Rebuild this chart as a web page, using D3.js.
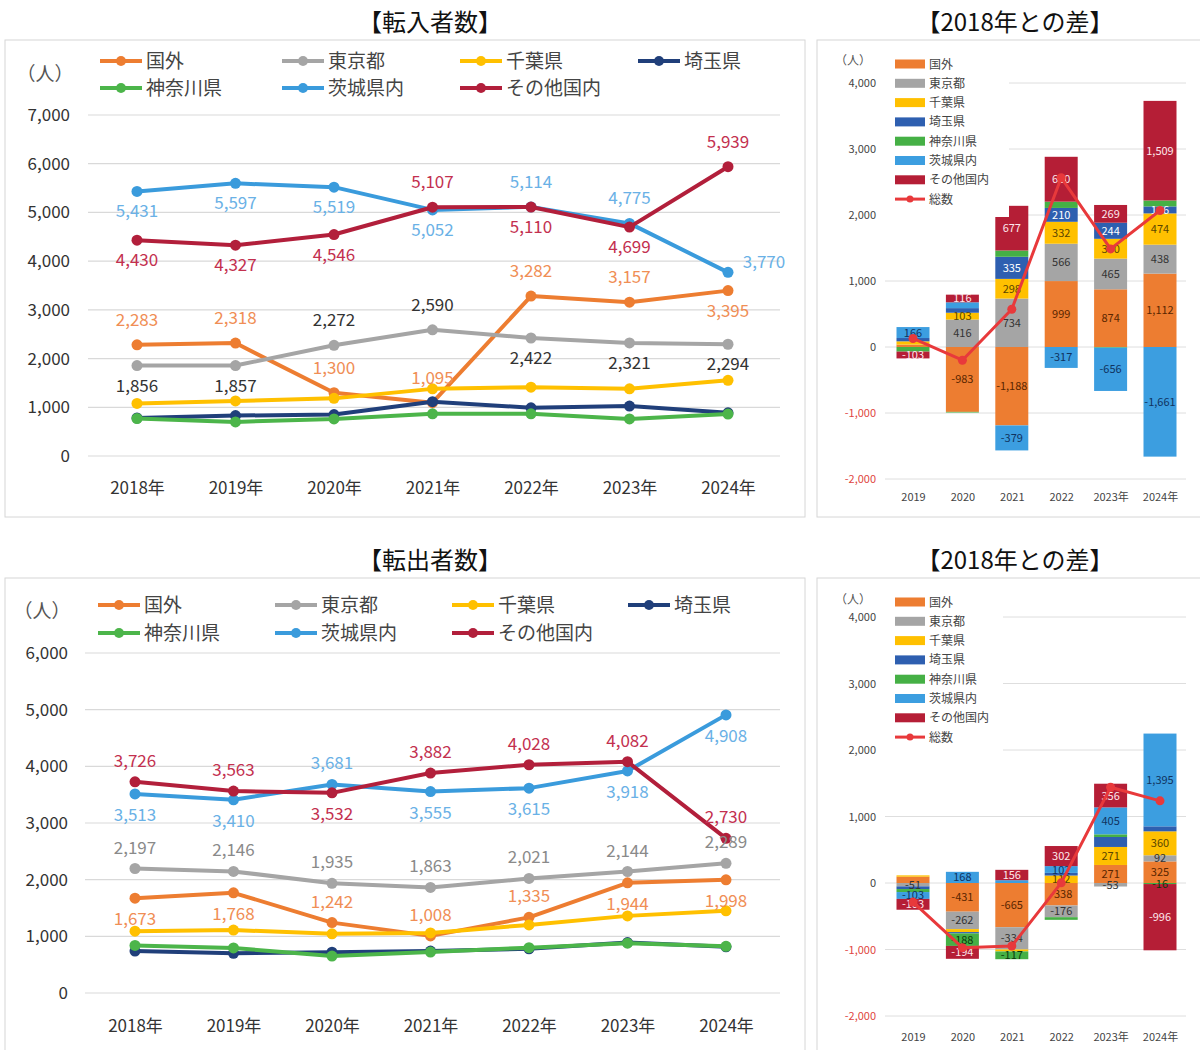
<!DOCTYPE html>
<html>
<head>
<meta charset="utf-8">
<script src="https://cdn.jsdelivr.net/npm/d3@7"></script>
<style>
  body { margin: 0; background: #fff; }
  svg { display: block; }
</style>
</head>
<body>
<svg id="chart" width="1200" height="1050"></svg>
<script>
// categories
const years = ["2018年", "2019年", "2020年", "2021年", "2022年", "2023年", "2024年"];
const diffYears = ["2019", "2020", "2021", "2022", "2023年", "2024年"];
const names = ["国外", "東京都", "千葉県", "埼玉県", "神奈川県", "茨城県内", "その他国内"];

// 転入者数
const inAbroad   = [2283, 2318, 1300, 1095, 3282, 3157, 3395];
const inTokyo    = [1856, 1857, 2272, 2590, 2422, 2321, 2294];
const inChiba    = [1080, 1130, 1183, 1378, 1412, 1380, 1554];
const inSaitama  = [780, 830, 850, 1115, 990, 1024, 886];
const inKanagawa = [770, 700, 760, 865, 865, 760, 860];
const inIbaraki  = [5431, 5597, 5519, 5052, 5114, 4775, 3770];
const inOther    = [4430, 4327, 4546, 5107, 5110, 4699, 5939];

// 転入 2018年との差
const inDiffAbroad   = [35, -983, -1188, 999, 874, 1112];
const inDiffTokyo    = [1, 416, 734, 566, 465, 438];
const inDiffChiba    = [50, 103, 298, 332, 300, 474];
const inDiffSaitama  = [50, 70, 335, 210, 244, 106];
const inDiffKanagawa = [-70, -10, 95, 95, -10, 90];
const inDiffIbaraki  = [166, 88, -379, -317, -656, -1661];
const inDiffOther    = [-103, 116, 677, 680, 269, 1509];
const inDiffTotal    = [129, -200, 572, 2565, 1486, 2068];

// 転出者数
const outAbroad   = [1673, 1768, 1242, 1008, 1335, 1944, 1998];
const outTokyo    = [2197, 2146, 1935, 1863, 2021, 2144, 2289];
const outChiba    = [1090, 1110, 1045, 1060, 1202, 1361, 1450];
const outSaitama  = [740, 700, 720, 740, 780, 890, 815];
const outKanagawa = [840, 795, 652, 723, 800, 880, 824];
const outIbaraki  = [3513, 3410, 3681, 3555, 3615, 3918, 4908];
const outOther    = [3726, 3563, 3532, 3882, 4028, 4082, 2730];

// 転出 2018年との差
const outDiffAbroad   = [95, -431, -665, -338, 271, 325];
const outDiffTokyo    = [-51, -262, -334, -176, -53, 92];
const outDiffChiba    = [20, -45, -30, 112, 271, 360];
const outDiffSaitama  = [-40, -20, 0, 40, 150, 75];
const outDiffKanagawa = [-45, -188, -117, -40, 40, -16];
const outDiffIbaraki  = [-103, 168, 42, 102, 405, 1395];
const outDiffOther    = [-163, -194, 156, 302, 356, -996];
const outDiffTotal    = [-287, -972, -948, 2, 1440, 1235];

// styles
const FONT = '"Noto Sans CJK JP", "Noto Sans", sans-serif';
const fmt = d3.formatLocale({ decimal: ".", thousands: ",", grouping: [3], currency: ["", ""], minus: "-" }).format(",");

const lineColor = { "国外": "#ED7D31", "東京都": "#A5A5A5", "千葉県": "#FFC000", "埼玉県": "#203F7A",
  "神奈川県": "#4CB54A", "茨城県内": "#3A9BDC", "その他国内": "#B21F3B" };
const barColor = { "国外": "#ED7D31", "東京都": "#A5A5A5", "千葉県": "#FFC000", "埼玉県": "#2E5FB0",
  "神奈川県": "#45B045", "茨城県内": "#3C9EE0", "その他国内": "#B51E36" };
const barText = { "国外": "#5a2600", "東京都": "#333", "千葉県": "#5a4500", "埼玉県": "#fff",
  "神奈川県": "#0a3a0a", "茨城県内": "#10335f", "その他国内": "#fde8ec" };
const totalColor = "#E8393B";

const svg = d3.select("#chart").attr("font-family", FONT);

// panels and titles
const panels = [[5, 40, 800, 477], [817, 40, 400, 477], [5, 578, 800, 480], [817, 578, 400, 480]];
svg.selectAll("rect.panel").data(panels).join("rect")
  .attr("class", "panel")
  .attr("x", d => d[0]).attr("y", d => d[1]).attr("width", d => d[2]).attr("height", d => d[3])
  .attr("fill", "#fff").attr("stroke", "#d6d6d6");

const titles = [["【転入者数】", 430, 31], ["【2018年との差】", 1015, 31], ["【転出者数】", 430, 569], ["【2018年との差】", 1015, 569]];
svg.selectAll("text.title").data(titles).join("text")
  .attr("class", "title")
  .attr("x", d => d[1]).attr("y", d => d[2])
  .attr("text-anchor", "middle").attr("font-size", 24).attr("fill", "#111")
  .text(d => d[0]);

function lineChart(cfg) {
  const g = svg.append("g");
  const x = d3.scalePoint().domain(years).range(cfg.xRange);
  const y = d3.scaleLinear().domain([0, cfg.yMax]).range(cfg.yRange);
  const ticks = d3.range(0, cfg.yMax + 1, 1000);

  // grid
  g.append("g").selectAll("line").data(ticks).join("line")
    .attr("x1", cfg.gridX[0]).attr("x2", cfg.gridX[1])
    .attr("y1", d => y(d)).attr("y2", d => y(d))
    .attr("stroke", "#d9d9d9").attr("stroke-width", 1.2);

  // y axis
  const ya = g.append("g").attr("transform", `translate(${cfg.tickX},0)`)
    .call(d3.axisLeft(y).tickValues(ticks).tickFormat(fmt).tickSize(0).tickPadding(0));
  ya.select(".domain").remove();
  ya.attr("font-family", FONT).attr("font-size", 17);
  ya.selectAll("text").attr("fill", "#333");

  // x axis
  const xa = g.append("g").attr("transform", `translate(0,${cfg.xLabelY})`)
    .call(d3.axisBottom(x).tickSize(0).tickPadding(0));
  xa.select(".domain").remove();
  xa.attr("font-family", FONT).attr("font-size", 17);
  xa.selectAll("text").attr("fill", "#333").attr("dy", 0);

  g.append("text").attr("x", cfg.unit[0]).attr("y", cfg.unit[1])
    .attr("text-anchor", "middle").attr("font-size", 19).attr("fill", "#555").text("（人）");

  // lines
  const line = d3.line().x((d, i) => x(years[i])).y(d => y(d));
  cfg.series.forEach(s => {
    const sg = g.append("g");
    sg.append("path").datum(s.values)
      .attr("d", line).attr("fill", "none")
      .attr("stroke", lineColor[s.name]).attr("stroke-width", 4)
      .attr("stroke-linejoin", "round");
    sg.selectAll("circle").data(s.values).join("circle")
      .attr("cx", (d, i) => x(years[i])).attr("cy", d => y(d)).attr("r", 5.5)
      .attr("fill", lineColor[s.name]);
  });

  // data labels
  cfg.series.forEach(s => {
    if (!s.sides) return;
    g.append("g").selectAll("text").data(s.values).join("text")
      .attr("x", (d, i) => x(years[i]) + (s.sides[i] === "right" ? 36 : 0))
      .attr("y", (d, i) => {
        const side = s.sides[i];
        if (side === "up") return y(d) - cfg.upOff;
        if (side === "down") return y(d) + cfg.downOff;
        return y(d) - 4;
      })
      .attr("text-anchor", "middle").attr("font-size", 17)
      .attr("fill", s.labelColor)
      .text(d => fmt(d));
  });

  // legend
  const order = [["国外", 0, 0], ["東京都", 1, 0], ["千葉県", 2, 0], ["埼玉県", 3, 0],
    ["神奈川県", 0, 1], ["茨城県内", 1, 1], ["その他国内", 2, 1]];
  const lg = g.append("g").selectAll("g").data(order).join("g")
    .attr("transform", d => `translate(${cfg.legendCols[d[1]]},${cfg.legendRows[d[2]]})`);
  lg.append("line").attr("x1", 0).attr("x2", 42).attr("stroke", d => lineColor[d[0]]).attr("stroke-width", 4);
  lg.append("circle").attr("cx", 21).attr("r", 5).attr("fill", d => lineColor[d[0]]);
  lg.append("text").attr("x", 46).attr("y", 7).attr("font-size", 19).attr("fill", "#444").text(d => d[0]);
}

function diffChart(cfg) {
  const g = svg.append("g");
  const x = d3.scalePoint().domain(diffYears).range(cfg.xRange);
  const y = d3.scaleLinear().domain([-2000, 4000]).range(cfg.yRange);
  const ticks = d3.range(-2000, 4001, 1000);
  const bw = 33;

  g.append("g").selectAll("line").data(ticks).join("line")
    .attr("x1", 885).attr("x2", 1186)
    .attr("y1", d => y(d)).attr("y2", d => y(d))
    .attr("stroke", "#dedede");

  const ya = g.append("g").attr("transform", "translate(876,0)")
    .call(d3.axisLeft(y).tickValues(ticks).tickFormat(fmt).tickSize(0).tickPadding(0));
  ya.select(".domain").remove();
  ya.attr("font-family", FONT).attr("font-size", 11);
  ya.selectAll("text").attr("fill", d => d < 0 ? "#E0463F" : "#444");

  const xa = g.append("g").attr("transform", `translate(0,${cfg.xLabelY})`)
    .call(d3.axisBottom(x).tickSize(0).tickPadding(0));
  xa.select(".domain").remove();
  xa.attr("font-family", FONT).attr("font-size", 11);
  xa.selectAll("text").attr("fill", "#444").attr("dy", 0);

  g.append("text").attr("x", 853).attr("y", cfg.unitY)
    .attr("text-anchor", "middle").attr("font-size", 12).attr("fill", "#555").text("（人）");

  // stacked bars
  const rows = diffYears.map((yr, i) => {
    const o = { year: yr };
    cfg.series.forEach(s => { o[s.name] = s.values[i]; });
    return o;
  });
  const stacked = d3.stack().keys(names).offset(d3.stackOffsetDiverging)(rows);

  stacked.forEach(layer => {
    g.append("g").selectAll("rect").data(layer).join("rect")
      .attr("x", d => x(d.data.year) - bw / 2).attr("width", bw)
      .attr("y", d => y(Math.max(d[0], d[1])))
      .attr("height", d => Math.abs(y(d[0]) - y(d[1])))
      .attr("fill", barColor[layer.key]);
  });

  // segment labels
  stacked.forEach(layer => {
    const shown = layer.filter(d => {
      const v = d.data[layer.key];
      const key = layer.key + "|" + d.data.year;
      if (cfg.force.includes(key)) return true;
      if (cfg.hide.includes(key) || cfg.skip.includes(layer.key)) return false;
      return Math.abs(v) >= cfg.minLabel;
    });
    g.append("g").selectAll("text").data(shown).join("text")
      .attr("x", d => x(d.data.year))
      .attr("y", d => y((d[0] + d[1]) / 2) + 4)
      .attr("text-anchor", "middle").attr("font-size", 11)
      .attr("fill", barText[layer.key])
      .text(d => fmt(d.data[layer.key]));
  });

  // total line
  const line = d3.line().x((d, i) => x(diffYears[i])).y(d => y(d));
  g.append("path").datum(cfg.total).attr("d", line)
    .attr("fill", "none").attr("stroke", totalColor).attr("stroke-width", 3).attr("stroke-linejoin", "round");
  g.append("g").selectAll("circle").data(cfg.total).join("circle")
    .attr("cx", (d, i) => x(diffYears[i])).attr("cy", d => y(d)).attr("r", 4.5)
    .attr("fill", totalColor);

  // legend (white box over the grid)
  const lb = cfg.legendBox;
  g.append("rect").attr("x", lb[0]).attr("y", lb[1]).attr("width", lb[2]).attr("height", lb[3]).attr("fill", "#fff");
  const items = names.concat(["総数"]);
  const lg = g.append("g").selectAll("g").data(items).join("g")
    .attr("transform", (d, i) => `translate(895,${cfg.legendY + i * 19.3})`);
  lg.filter(d => d !== "総数").append("rect")
    .attr("x", 0).attr("y", -4.5).attr("width", 30).attr("height", 9)
    .attr("fill", d => barColor[d]);
  const tl = lg.filter(d => d === "総数");
  tl.append("line").attr("x1", 0).attr("x2", 30).attr("stroke", totalColor).attr("stroke-width", 3);
  tl.append("circle").attr("cx", 15).attr("r", 3.5).attr("fill", totalColor);
  lg.append("text").attr("x", 34).attr("y", 4.5).attr("font-size", 12).attr("fill", "#444").text(d => d);
}

lineChart({
  xRange: [137, 728], yMax: 7000, yRange: [456, 115], gridX: [88, 780],
  tickX: 70, xLabelY: 494, unit: [45, 81], upOff: 19, downOff: 26,
  legendCols: [100, 282, 460, 638], legendRows: [61, 88],
  series: [
    { name: "国外", values: inAbroad, labelColor: "#F08E55",
      sides: ["up", "up", "up", "up", "up", "up", "down"] },
    { name: "東京都", values: inTokyo, labelColor: "#333",
      sides: ["down", "down", "up", "up", "down", "down", "down"] },
    { name: "千葉県", values: inChiba },
    { name: "埼玉県", values: inSaitama },
    { name: "神奈川県", values: inKanagawa },
    { name: "茨城県内", values: inIbaraki, labelColor: "#6AB1E6",
      sides: ["down", "down", "down", "down", "up", "up", "right"] },
    { name: "その他国内", values: inOther, labelColor: "#C3304F",
      sides: ["down", "down", "down", "up", "down", "down", "up"] }
  ]
});

diffChart({
  xRange: [913, 1160], yRange: [479, 83], xLabelY: 501, unitY: 65,
  legendBox: [885, 50, 124, 167], legendY: 64,
  minLabel: 100, skip: [], hide: [], force: [],
  total: inDiffTotal,
  series: [
    { name: "国外", values: inDiffAbroad }, { name: "東京都", values: inDiffTokyo },
    { name: "千葉県", values: inDiffChiba }, { name: "埼玉県", values: inDiffSaitama },
    { name: "神奈川県", values: inDiffKanagawa }, { name: "茨城県内", values: inDiffIbaraki },
    { name: "その他国内", values: inDiffOther }
  ]
});

lineChart({
  xRange: [135, 726], yMax: 6000, yRange: [993, 653], gridX: [85, 780],
  tickX: 68, xLabelY: 1032, unit: [42, 618], upOff: 15, downOff: 27,
  legendCols: [98, 275, 452, 628], legendRows: [605, 633],
  series: [
    { name: "国外", values: outAbroad, labelColor: "#F08E55",
      sides: ["down", "down", "up", "up", "up", "down", "down"] },
    { name: "東京都", values: outTokyo, labelColor: "#8a8a8a",
      sides: ["up", "up", "up", "up", "up", "up", "up"] },
    { name: "千葉県", values: outChiba },
    { name: "埼玉県", values: outSaitama },
    { name: "神奈川県", values: outKanagawa },
    { name: "茨城県内", values: outIbaraki, labelColor: "#6AB1E6",
      sides: ["down", "down", "up", "down", "down", "down", "down"] },
    { name: "その他国内", values: outOther, labelColor: "#C3304F",
      sides: ["up", "up", "down", "up", "up", "up", "up"] }
  ]
});

diffChart({
  xRange: [913, 1160], yRange: [1016, 617], xLabelY: 1041, unitY: 604,
  legendBox: [885, 588, 118, 170], legendY: 602,
  minLabel: 50, skip: ["埼玉県"], hide: ["国外|2019"], force: ["神奈川県|2024年"],
  total: outDiffTotal,
  series: [
    { name: "国外", values: outDiffAbroad }, { name: "東京都", values: outDiffTokyo },
    { name: "千葉県", values: outDiffChiba }, { name: "埼玉県", values: outDiffSaitama },
    { name: "神奈川県", values: outDiffKanagawa }, { name: "茨城県内", values: outDiffIbaraki },
    { name: "その他国内", values: outDiffOther }
  ]
});
</script>
</body>
</html>
